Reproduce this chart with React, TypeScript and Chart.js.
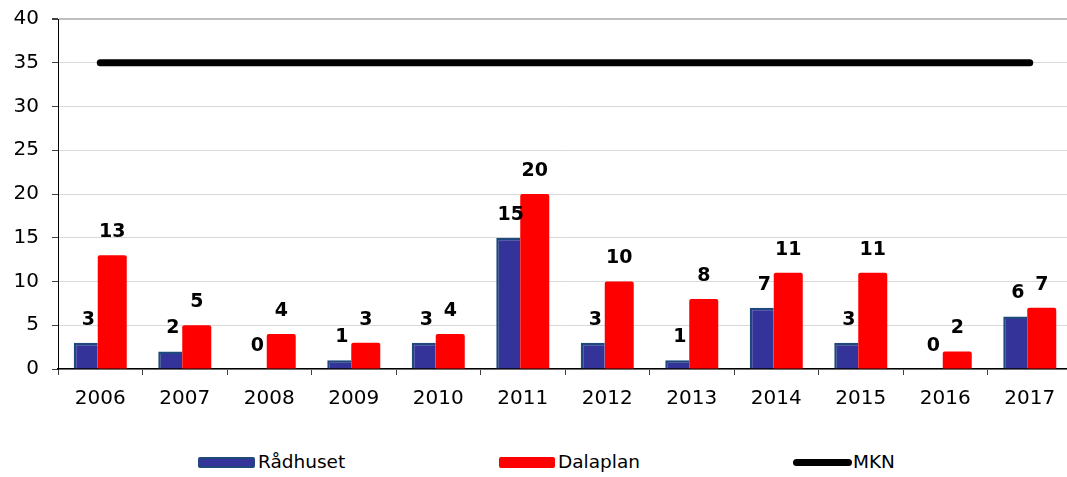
import React, { useEffect, useRef } from "react";
import { Chart, registerables } from "chart.js";

Chart.register(...registerables);

const categories = ["2006", "2007", "2008", "2009", "2010", "2011", "2012", "2013", "2014", "2015", "2016", "2017"];
const radhuset = [3, 2, 0, 1, 3, 15, 3, 1, 7, 3, 0, 6];
const dalaplan = [13, 5, 4, 3, 4, 20, 10, 8, 11, 11, 2, 7];
const mkn = [35, 35, 35, 35, 35, 35, 35, 35, 35, 35, 35, 35];
const seriesNames = ["Rådhuset", "Dalaplan", "MKN"];

const FONT = "'DejaVu Sans', 'Liberation Sans', sans-serif";

const valueLabels = {
  id: "valueLabels",
  afterDatasetsDraw(chart: any) {
    const ctx = chart.ctx;
    ctx.save();
    ctx.font = `bold 19px ${FONT}`;
    ctx.fillStyle = "#000";
    ctx.textAlign = "center";
    ctx.textBaseline = "middle";
    [0, 1].forEach((di) => {
      const meta = chart.getDatasetMeta(di);
      const vals = chart.data.datasets[di].data as number[];
      const dx = di === 0 ? 2.5 : 0;
      meta.data.forEach((bar: any, j: number) => {
        ctx.fillText(String(vals[j]), bar.x + dx, bar.y - 23);
      });
    });
    ctx.restore();
  },
};

export default function App() {
  const ref = useRef<HTMLCanvasElement>(null);
  useEffect(() => {
    document.body.style.margin = "0";
    const chart = new Chart(ref.current!, {
      type: "bar",
      data: {
        labels: categories,
        datasets: [
          {
            type: "bar",
            label: seriesNames[0],
            data: radhuset,
            backgroundColor: "#333399",
            borderColor: "#1F497D",
            borderWidth: (c: any) =>
              c.raw === 0 ? 0 : { top: 2.5, left: 2.5, right: 0, bottom: 0 },
            categoryPercentage: 58 / 84.5,
            barPercentage: 24 / 29,
          } as any,
          {
            type: "bar",
            label: seriesNames[1],
            data: dalaplan,
            backgroundColor: "#FF0000",
            borderColor: "#FF0000",
            borderWidth: 0,
            borderRadius: 2,
            borderSkipped: "bottom",
            categoryPercentage: 48 / 84.5,
            barPercentage: 29 / 24,
          } as any,
          {
            type: "line",
            label: seriesNames[2],
            data: mkn,
            borderColor: "#000",
            backgroundColor: "#000",
            borderWidth: 7,
            borderCapStyle: "round",
            pointRadius: 0,
            fill: false,
          } as any,
        ],
      },
      options: {
        responsive: false,
        animation: false,
        devicePixelRatio: 1,
        layout: { padding: { top: 0, right: 0, left: 0, bottom: 0 } },
        plugins: {
          legend: { display: false },
          tooltip: { enabled: false },
        },
        scales: {
          x: {
            offset: true,
            grid: {
              offset: true,
              drawOnChartArea: false,
              drawTicks: true,
              tickLength: 6,
              tickColor: "#404040",
            },
            border: { display: true, color: "#000", width: 1.5 },
            ticks: {
              color: "#000",
              padding: 12,
              font: { family: FONT, size: 20 },
              maxRotation: 0,
              autoSkip: false,
            },
            afterFit: (s: any) => {
              s.height = 71;
            },
          },
          y: {
            min: 0,
            max: 40,
            ticks: {
              stepSize: 5,
              color: "#000",
              padding: 13,
              font: { family: FONT, size: 20, lineHeight: 0.6 },
            },
            grid: {
              color: (c: any) => (c.tick && c.tick.value === 40 ? "#bfbfbf" : "#d9d9d9"),
              lineWidth: (c: any) => (c.tick && c.tick.value === 40 ? 2 : 1),
              drawTicks: true,
              tickLength: 6,
              tickColor: "#404040",
            },
            border: { display: true, color: "#000", width: 1 },
            afterFit: (s: any) => {
              s.width = 58;
            },
          },
        },
      },
      plugins: [valueLabels],
    });
    return () => chart.destroy();
  }, []);

  const textStyle: React.CSSProperties = {
    position: "absolute",
    top: 452,
    fontFamily: FONT,
    fontSize: "18.5px",
    lineHeight: "20px",
    color: "#000",
    whiteSpace: "nowrap",
  };

  return (
    <div style={{ position: "relative", width: 1067, height: 477, overflow: "hidden", background: "#fff" }}>
      <canvas ref={ref} width={1072} height={440} style={{ position: "absolute", left: 0, top: 0, width: 1072, height: 440 }} />
      <div
        style={{
          position: "absolute",
          left: 198,
          top: 457,
          width: 57,
          height: 11,
          background: "#333399",
          border: "2px solid #1F497D",
          boxSizing: "border-box",
          borderRadius: 2,
        }}
      />
      <div style={{ ...textStyle, left: 258 }}>{seriesNames[0]}</div>
      <div
        style={{
          position: "absolute",
          left: 499,
          top: 457,
          width: 56,
          height: 11,
          background: "#FF0000",
          borderRadius: 2,
        }}
      />
      <div style={{ ...textStyle, left: 558 }}>{seriesNames[1]}</div>
      <div
        style={{
          position: "absolute",
          left: 793,
          top: 459,
          width: 59,
          height: 7,
          background: "#000",
          borderRadius: 4,
        }}
      />
      <div style={{ ...textStyle, left: 853 }}>{seriesNames[2]}</div>
    </div>
  );
}
